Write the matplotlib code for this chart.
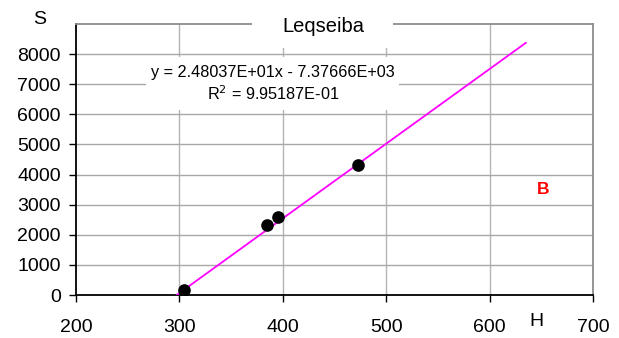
import matplotlib
matplotlib.use("Agg")
import matplotlib.pyplot as plt
from matplotlib.patches import Rectangle

plt.rcParams['font.family'] = ['Liberation Sans', 'DejaVu Sans']

# Observed points (H, S)
h_obs = [304, 385, 395, 473]
s_obs = [150, 2340, 2580, 4330]

# Linear trend fit
slope = 24.8037
intercept = -7376.66
r2 = 0.995187
h_line = [intercept / -slope, 635]

title = "Leqseiba"
x_ticks = [200, 300, 400, 500, 600, 700]
y_ticks = [0, 1000, 2000, 3000, 4000, 5000, 6000, 7000, 8000]

W, H = 619, 338
fig = plt.figure(figsize=(W / 100, H / 100), dpi=100)
L, R, T, B = 76, 593, 24, 295
ax = fig.add_axes([L / W, 1 - B / H, (R - L) / W, (B - T) / H])

ax.set_xlim(200, 700)
ax.set_ylim(0, 9000)
ax.set_xticks(x_ticks)
ax.set_yticks(y_ticks)
ax.tick_params(labelsize=14, direction='out', length=5, width=1, color='black')
ax.tick_params(axis='x', pad=12)
ax.tick_params(axis='y', pad=6)

for v in [300, 400, 500, 600]:
    ax.axvline(v, color='#b4b4b4', lw=1, zorder=0)
for v in y_ticks[1:]:
    ax.axhline(v, color='#a8a8a8', lw=1, zorder=0)

for side in ['left', 'bottom']:
    ax.spines[side].set_color('black')
    ax.spines[side].set_linewidth(1.3)
for side in ['top', 'right']:
    ax.spines[side].set_color('#8c8c8c')
    ax.spines[side].set_linewidth(1.3)

ax.plot(h_line, [slope * h + intercept for h in h_line], color='#ff00ff', lw=1.3, zorder=3)
ax.scatter(h_obs, s_obs, s=65, color='black', zorder=4)


def px_to_data(px, py):
    return (200 + (px - L) * 500 / (R - L), (B - py) * 9000 / (B - T))


# white patch behind the fit equation
x0, y0 = px_to_data(146, 110)
x1, y1 = px_to_data(399, 57)
ax.add_patch(Rectangle((x0, y0), x1 - x0, y1 - y0,
                       facecolor='white', edgecolor='none', zorder=1))
ex, ey = px_to_data(273, 73)
ax.text(ex, ey, "y = 2.48037E+01x - 7.37666E+03",
        ha='center', va='center', fontsize=11.7, zorder=5)
ex, ey = px_to_data(273, 94)
ax.text(ex, ey, "R$^2$ = 9.95187E-01",
        ha='center', va='center', fontsize=11.7, zorder=5)

# title sits in a white gap cut into the top frame
fig.add_artist(Rectangle((252 / W, 1 - 48 / H), (393 - 252) / W, 38 / H,
                         transform=fig.transFigure, facecolor='white',
                         edgecolor='none', zorder=5))
fig.text(323 / W, 1 - 27 / H, title, ha='center', va='center', fontsize=14.5, zorder=6)
fig.text(40 / W, 1 - 19 / H, "S", ha='center', va='center', fontsize=14)
fig.text(536 / W, 1 - 322 / H, "H", ha='center', va='center', fontsize=14)
bx, by = px_to_data(543, 189)
ax.text(bx, by, "B", color='red', fontsize=12.5, fontweight='bold', ha='center', va='center')

fig.savefig("out.png", dpi=100)
